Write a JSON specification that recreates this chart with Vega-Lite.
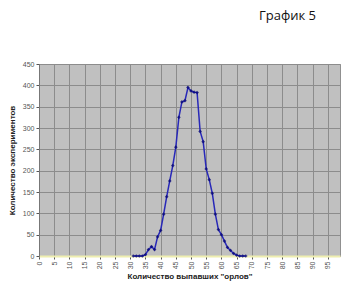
{
  "$schema": "https://vega.github.io/schema/vega-lite/v6.json",
  "width": 301,
  "height": 192,
  "autosize": {"type": "none"},
  "padding": {"left": 39, "top": 64, "right": 15, "bottom": 44},
  "background": "white",
  "config": {
    "view": {"fill": "#c0c0c0", "stroke": "#909090", "strokeWidth": 1},
    "font": "Liberation Sans"
  },
  "title": {
    "text": "График 5",
    "anchor": "end",
    "dx": -24,
    "offset": 37,
    "font": "Open Sans",
    "fontSize": 13,
    "fontWeight": "normal",
    "color": "#111"
  },
  "data": {
    "values": [
      {"n": 31, "count": 0}, {"n": 32, "count": 0}, {"n": 33, "count": 0}, {"n": 34, "count": 0},
      {"n": 35, "count": 3}, {"n": 36, "count": 15}, {"n": 37, "count": 22}, {"n": 38, "count": 15},
      {"n": 39, "count": 45}, {"n": 40, "count": 60}, {"n": 41, "count": 98}, {"n": 42, "count": 139},
      {"n": 43, "count": 176}, {"n": 44, "count": 212}, {"n": 45, "count": 255}, {"n": 46, "count": 325},
      {"n": 47, "count": 361}, {"n": 48, "count": 364}, {"n": 49, "count": 395}, {"n": 50, "count": 387},
      {"n": 51, "count": 384}, {"n": 52, "count": 383}, {"n": 53, "count": 292}, {"n": 54, "count": 268},
      {"n": 55, "count": 204}, {"n": 56, "count": 179}, {"n": 57, "count": 147}, {"n": 58, "count": 98},
      {"n": 59, "count": 62}, {"n": 60, "count": 50}, {"n": 61, "count": 35}, {"n": 62, "count": 20},
      {"n": 63, "count": 13}, {"n": 64, "count": 6}, {"n": 65, "count": 2}, {"n": 66, "count": 0},
      {"n": 67, "count": 0}, {"n": 68, "count": 0}
    ]
  },
  "encoding": {
    "x": {
      "field": "n",
      "type": "quantitative",
      "scale": {"domain": [0, 99], "nice": false, "zero": false},
      "axis": {
        "title": "Количество выпавших \"орлов\"",
        "titleFont": "Liberation Sans",
        "titleFontSize": 8,
        "titleFontWeight": "bold",
        "titleColor": "#222",
        "titlePadding": 4,
        "values": [0,5,10,15,20,25,30,35,40,45,50,55,60,65,70,75,80,85,90,95],
        "labelAngle": 270,
        "labelFontSize": 7,
        "labelColor": "#555",
        "labelPadding": 2,
        "tickSize": 3,
        "tickColor": "#555",
        "domainColor": "#eeeeb0",
        "domainWidth": 2,
        "grid": true,
        "gridColor": "#8c8c8c",
        "gridWidth": 1
      }
    },
    "y": {
      "field": "count",
      "type": "quantitative",
      "scale": {"domain": [0, 450], "nice": false},
      "axis": {
        "title": "Количество экспериментов",
        "titleFont": "Liberation Sans",
        "titleFontSize": 8,
        "titleFontWeight": "bold",
        "titleColor": "#222",
        "titlePadding": 6,
        "values": [0,50,100,150,200,250,300,350,400,450],
        "labelFontSize": 7,
        "labelColor": "#555",
        "labelPadding": 2,
        "tickSize": 3,
        "tickColor": "#555",
        "domainColor": "#777",
        "grid": true,
        "gridColor": "#8c8c8c",
        "gridWidth": 1
      }
    }
  },
  "layer": [
    {"mark": {"type": "line", "color": "#2828b8", "strokeWidth": 1.5}},
    {"mark": {"type": "point", "shape": "diamond", "filled": true, "size": 14, "color": "#000070"}}
  ]
}
